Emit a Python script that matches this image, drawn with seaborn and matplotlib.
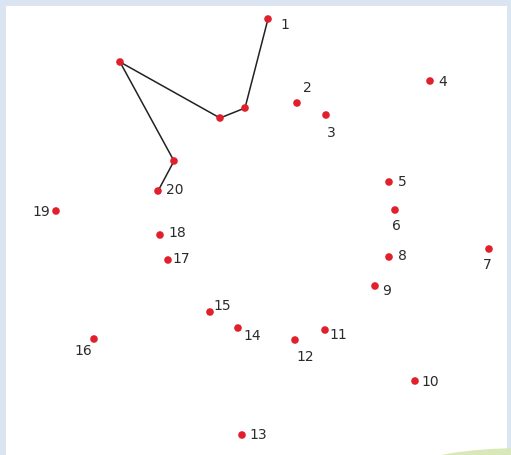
import matplotlib
matplotlib.use("Agg")
import matplotlib.pyplot as plt
import seaborn as sns
import pandas as pd
from matplotlib.patches import Rectangle, Ellipse

# numbered dots (pixel-like coordinates, y measured downward)
labels = ['1', '2', '3', '4', '5', '6', '7', '8', '9', '10',
          '11', '12', '13', '14', '15', '16', '17', '18', '19', '20']
dot_x = [268, 297, 326, 430, 389, 395, 489, 389, 375, 415,
         325, 295, 242, 238, 210, 94, 168, 160, 56, 158]
dot_y = [19, 103, 115, 81, 182, 210, 249, 257, 286, 381,
         330, 340, 435, 328, 312, 339, 260, 235, 211, 191]

# already-drawn path from 1 to 20
path_x = [268, 245, 220, 120, 174, 158]
path_y = [19, 108, 118, 62, 161, 191]

# label offsets (dx, dy) relative to each dot
offsets = [(17, 6), (10, -15), (5, 18), (13, 1), (13, 0), (1, 16), (-2, 16), (13, -1), (12, 5), (15, 1),
           (13, 5), (10, 17), (16, 0), (14, 8), (12, -6), (-11, 12), (13, -1), (17, -2), (-15, 1), (17, -1)]

dots = pd.DataFrame({'label': labels, 'x': dot_x, 'y': dot_y})
path = pd.DataFrame({'x': path_x, 'y': path_y})

sns.set_style('white')
fig = plt.figure(figsize=(5.11, 4.55), dpi=100, facecolor='#dbe5f1')
ax = fig.add_axes([0, 0, 1, 1])
ax.set_xlim(0, 511)
ax.set_ylim(455, 0)
ax.axis('off')

# white sheet inside the light blue frame
ax.add_patch(Rectangle((6, 6), 501, 449, facecolor='white', edgecolor='none', zorder=0))
ax.add_patch(Ellipse((525, 468), 220, 40, facecolor='#d9e8b8', edgecolor='none', zorder=0.5))

sns.lineplot(data=path, x='x', y='y', sort=False, estimator=None, color='#222222',
             linewidth=1.1, ax=ax, zorder=2)
sns.scatterplot(data=path.iloc[1:-1], x='x', y='y', color='#e0202a', s=30,
                edgecolor='none', ax=ax, zorder=3)
sns.scatterplot(data=dots, x='x', y='y', color='#e0202a', s=30,
                edgecolor='none', ax=ax, zorder=3)

for lab, x, y, (dx, dy) in zip(labels, dot_x, dot_y, offsets):
    ax.text(x + dx, y + dy, lab, fontsize=10, color='#2b2b2b',
            ha='center', va='center')

ax.set_xlabel('')
ax.set_ylabel('')
fig.savefig('out.png', dpi=100, facecolor=fig.get_facecolor())
